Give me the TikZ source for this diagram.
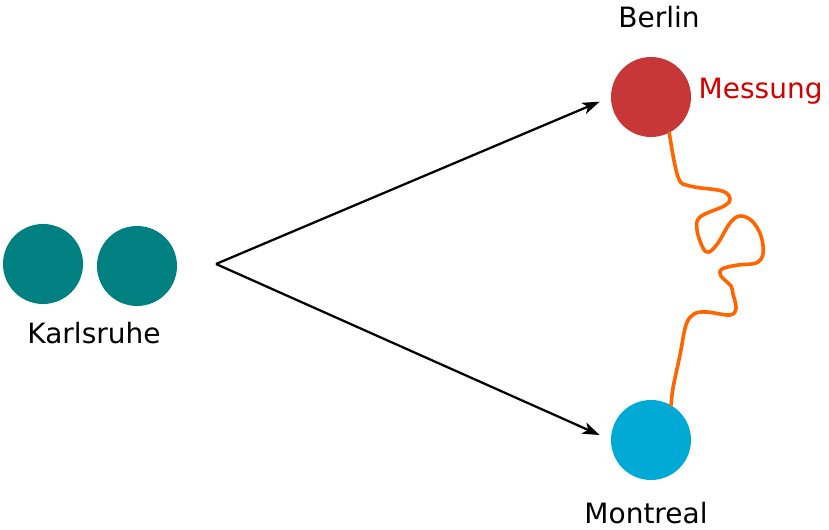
\documentclass[tikz,border=0pt]{standalone}
\usepackage{fontspec}
\setmainfont{DejaVu Sans}
\usetikzlibrary{arrows.meta}
\definecolor{kateal}{HTML}{008080}
\definecolor{berred}{HTML}{C83737}
\definecolor{monblue}{HTML}{00AAD4}
\definecolor{wavorange}{HTML}{FF6600}
\definecolor{messred}{HTML}{D40000}

\begin{document}
\begin{tikzpicture}[
  x=0.75pt, y=-0.75pt,
  font=\fontsize{21}{25}\selectfont,
  site/.style={circle, inner sep=0pt, minimum size=60pt},
  msg/.style={-{Stealth[length=13pt, width=9pt, inset=3.5pt]}, line width=1.7pt, shorten >=9pt},
  noise/.style={wavorange, line width=2.7pt, line cap=round},
]
\useasboundingbox (0,0) rectangle (829,530);

\node[site, fill=kateal] (ka1) at (43,264) {};
\node[site, fill=kateal] (ka2) at (137,266) {};
\node[site, fill=berred] (berlin) at (651,97) {};
\node[site, fill=monblue] (montreal) at (651,440) {};

\node (kalabel) at (94,333) {Karlsruhe};
\node (belabel) at (659,17) {Berlin};
\node (molabel) at (646,513) {Montreal};
\node[text=messred, anchor=west] (messung) at (694,91) {Messung};

\coordinate (src) at (216,264);
\draw[msg] (src) -- (berlin.west);
\draw[msg] (src) -- (montreal.west);

\draw[noise] plot[smooth, tension=0.6] coordinates {(berlin.-63) (678,177) (690,186)
  (722,191) (730,199) (724,206) (700,217) (697,230) (703,248) (709,252) (718,243)
  (730,223) (740,216) (752,221) (761,236) (763,254) (756,263) (738,265) (722,269)
  (721,276) (731,286) (733,294) (736,308) (730,315) (707,312) (694,314) (686,325)
  (680,355) (673,388) (montreal.60)};
\end{tikzpicture}
\end{document}
